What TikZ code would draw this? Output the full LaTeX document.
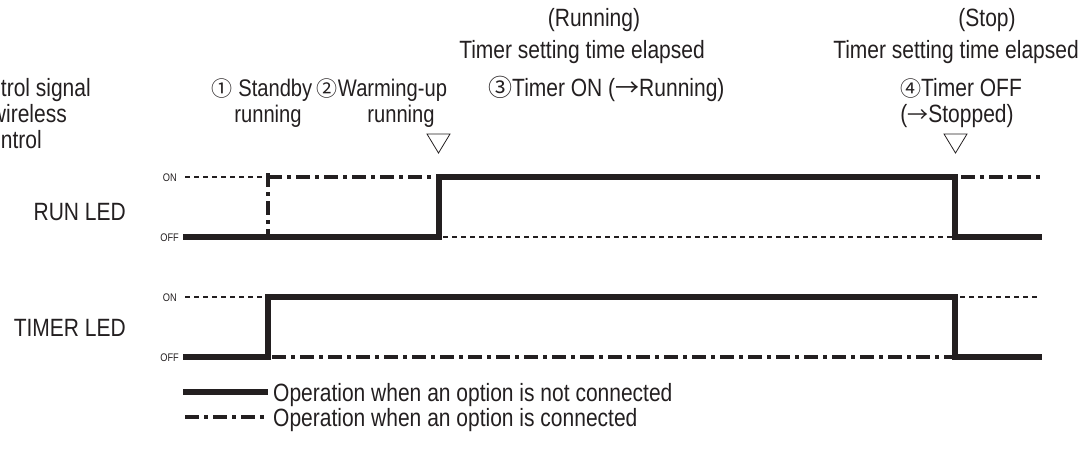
\documentclass[tikz,border=0pt]{standalone}
\usepackage{fontspec}
\setmainfont{Liberation Sans}[FakeStretch=0.84]
\newfontfamily\cjk{Noto Sans CJK JP}
\newcommand{\circd}[1]{{\cjk\fontsize{21}{32}\selectfont #1}}
\newcommand{\circw}[1]{{\cjk\fontsize{24}{32}\selectfont #1}}
\definecolor{ink}{HTML}{231F20}
\begin{document}
\begin{tikzpicture}[x=1pt,y=-1pt,
  solidw/.style={draw=ink,line width=6pt,line join=miter},
  dashdotw/.style={draw=ink,line width=4.5pt,dash pattern=on 14pt off 5pt on 4pt off 5pt},
  dotw/.style={draw=ink,line width=2pt,dash pattern=on 5pt off 4pt},
  lbl/.style={inner sep=0pt,anchor=base,font=\fontsize{25}{32}\selectfont,text=ink},
  evl/.style={inner sep=0pt,anchor=base,font=\fontsize{24}{32}\selectfont,text=ink},
  tiny/.style={inner sep=0pt,anchor=base east,font=\fontsize{11}{12}\selectfont,text=ink},
  marker/.style={draw=ink,line width=0.8pt}]
\useasboundingbox (0,0) rectangle (1086,452);
\clip (0,0) rectangle (1086,452);
% levels
\coordinate (r0off) at (183,237); \coordinate (r0on) at (185,177);
\coordinate (raon) at (268,177); \coordinate (raoff) at (268,237);
\coordinate (rbon) at (439,177); \coordinate (rboff) at (439,237);
\coordinate (rcon) at (955,177); \coordinate (rcoff) at (955,237);
\coordinate (reon) at (1040,177); \coordinate (reoff) at (1042,237);
\coordinate (t0off) at (183,357); \coordinate (t0on) at (185,297);
\coordinate (taon) at (268,297); \coordinate (taoff) at (268,357);
\coordinate (tcon) at (955,297); \coordinate (tcoff) at (955,357);
\coordinate (teon) at (1040,297); \coordinate (teoff) at (1042,357);
% RUN LED
\draw[dotw] (r0on) -- ([xshift=-3pt]raon);
\draw[dotw] ([xshift=4pt]rboff) -- ([xshift=-3pt]rcoff);
\draw[dashdotw] (raon) -- ([xshift=-2pt]rbon);
\draw[dashdotw] ([yshift=4pt]raon) -- (raoff);
\draw[dashdotw] ([xshift=6pt]rcon) -- (reon);
\draw[solidw] (r0off) -- (rboff) -- (rbon) -- (rcon) -- (rcoff) -- (reoff);
% TIMER LED
\draw[dotw] (t0on) -- ([xshift=-3pt]taon);
\draw[dotw] ([xshift=5pt]tcon) -- (teon);
\draw[dashdotw] ([xshift=4pt]taoff) -- ([xshift=-3pt]tcoff);
\draw[solidw] (t0off) -- (taoff) -- (taon) -- (tcon) -- (tcoff) -- (teoff);
% ON / OFF labels
\node[tiny] (ron) at (177,181) {ON};
\node[tiny] (roff) at (179,241) {OFF};
\node[tiny] (ton) at (177,301) {ON};
\node[tiny] (toff) at (179,361) {OFF};
% row labels
\node[lbl,anchor=base east] (runled) at (126,220) {RUN LED};
\node[lbl,anchor=base east] (timerled) at (126,336) {TIMER LED};
% left clipped text
\node[lbl,anchor=base east] (ctl1) at (91,96) {trol signal};
\node[lbl,anchor=base east] (ctl2) at (67,122) {wireless};
\node[lbl,anchor=base east] (ctl3) at (42,148) {ntrol};
% event labels
\node[evl] (ev1a) at (262,96) {\circd{①} Standby};
\node[evl] (ev1b) at (268,122) {running};
\node[evl] (ev2a) at (382,96) {\circd{②}Warming-up};
\node[evl] (ev2b) at (401,122) {running};
\node[lbl] (ev3a) at (594,27) {(Running)};
\node[lbl] (ev3b) at (582,59) {Timer setting time elapsed};
\node[lbl,anchor=base west] (ev3c) at (488,96) {\circw{③}Timer ON (\circw{→}Running)};
\node[lbl] (ev4a) at (987,27) {(Stop)};
\node[lbl] (ev4b) at (956,59) {Timer setting time elapsed};
\node[lbl] (ev4c) at (961,96) {\circd{④}Timer OFF};
\node[lbl] (ev4d) at (957,122) {(\circd{→}Stopped)};
% markers
\draw[marker] (427,134) -- (450,134) -- (438.5,153) -- cycle;
\draw[marker] (944,134) -- (967,134) -- (955.5,153) -- cycle;
% legend
\coordinate (l1a) at (183,392); \coordinate (l1b) at (268,392);
\coordinate (l2a) at (185,417); \coordinate (l2b) at (268,417);
\draw[solidw] (l1a) -- (l1b);
\draw[dashdotw] (l2a) -- (l2b);
\node[lbl,anchor=base west] (leg1) at (273,401) {Operation when an option is not connected};
\node[lbl,anchor=base west] (leg2) at (273,426) {Operation when an option is connected};
\end{tikzpicture}
\end{document}
